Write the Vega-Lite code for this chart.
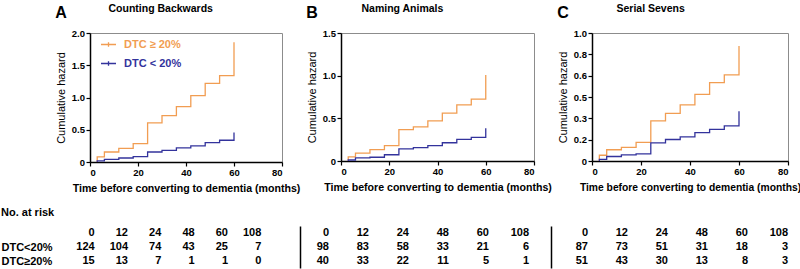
{
  "$schema": "https://vega.github.io/schema/vega-lite/v6.json",
  "padding": {"left": 1, "top": 2, "right": 1, "bottom": 1},
  "background": "white",
  "config": {
    "font": "Liberation Sans",
    "view": {"stroke": "#8c8c8c", "strokeWidth": 1},
    "axis": {
      "grid": false, "labelFont": "Liberation Sans", "labelFontSize": 9.5, "labelFontWeight": "bold", "labelColor": "#000",
      "domainColor": "#000", "domainWidth": 1.5, "tickColor": "#000", "tickWidth": 1.2, "tickSize": 4, "labelPadding": 1.5,
      "titleFont": "Liberation Sans", "titleColor": "#000", "titleFontSize": 10.5
    },
    "title": {"font": "Liberation Sans", "color": "#000"},
    "text": {"font": "Liberation Sans"}
  },
  "datasets": {
    "curves": [
      {"panel": "A", "group": "DTC ≥ 20%", "t": 3, "h": 0},
      {"panel": "A", "group": "DTC ≥ 20%", "t": 3, "h": 0.078},
      {"panel": "A", "group": "DTC ≥ 20%", "t": 6, "h": 0.155},
      {"panel": "A", "group": "DTC ≥ 20%", "t": 12, "h": 0.212},
      {"panel": "A", "group": "DTC ≥ 20%", "t": 18, "h": 0.285},
      {"panel": "A", "group": "DTC ≥ 20%", "t": 24, "h": 0.606},
      {"panel": "A", "group": "DTC ≥ 20%", "t": 30, "h": 0.72},
      {"panel": "A", "group": "DTC ≥ 20%", "t": 36, "h": 0.86},
      {"panel": "A", "group": "DTC ≥ 20%", "t": 42, "h": 1.03},
      {"panel": "A", "group": "DTC ≥ 20%", "t": 48, "h": 1.22},
      {"panel": "A", "group": "DTC ≥ 20%", "t": 54, "h": 1.34},
      {"panel": "A", "group": "DTC ≥ 20%", "t": 60, "h": 1.855},
      {"panel": "A", "group": "DTC < 20%", "t": 3, "h": 0},
      {"panel": "A", "group": "DTC < 20%", "t": 3, "h": 0.016},
      {"panel": "A", "group": "DTC < 20%", "t": 6, "h": 0.04},
      {"panel": "A", "group": "DTC < 20%", "t": 12, "h": 0.062},
      {"panel": "A", "group": "DTC < 20%", "t": 18, "h": 0.083},
      {"panel": "A", "group": "DTC < 20%", "t": 24, "h": 0.155},
      {"panel": "A", "group": "DTC < 20%", "t": 30, "h": 0.18},
      {"panel": "A", "group": "DTC < 20%", "t": 36, "h": 0.218},
      {"panel": "A", "group": "DTC < 20%", "t": 42, "h": 0.249},
      {"panel": "A", "group": "DTC < 20%", "t": 48, "h": 0.3},
      {"panel": "A", "group": "DTC < 20%", "t": 54, "h": 0.337},
      {"panel": "A", "group": "DTC < 20%", "t": 60, "h": 0.456},
      {"panel": "B", "group": "DTC ≥ 20%", "t": 3, "h": 0},
      {"panel": "B", "group": "DTC ≥ 20%", "t": 3, "h": 0.048},
      {"panel": "B", "group": "DTC ≥ 20%", "t": 6, "h": 0.093},
      {"panel": "B", "group": "DTC ≥ 20%", "t": 12, "h": 0.133},
      {"panel": "B", "group": "DTC ≥ 20%", "t": 18, "h": 0.18},
      {"panel": "B", "group": "DTC ≥ 20%", "t": 24, "h": 0.367},
      {"panel": "B", "group": "DTC ≥ 20%", "t": 30, "h": 0.4},
      {"panel": "B", "group": "DTC ≥ 20%", "t": 36, "h": 0.47},
      {"panel": "B", "group": "DTC ≥ 20%", "t": 42, "h": 0.56},
      {"panel": "B", "group": "DTC ≥ 20%", "t": 48, "h": 0.657},
      {"panel": "B", "group": "DTC ≥ 20%", "t": 54, "h": 0.726},
      {"panel": "B", "group": "DTC ≥ 20%", "t": 60, "h": 1.008},
      {"panel": "B", "group": "DTC < 20%", "t": 3, "h": 0},
      {"panel": "B", "group": "DTC < 20%", "t": 3, "h": 0.012},
      {"panel": "B", "group": "DTC < 20%", "t": 6, "h": 0.036},
      {"panel": "B", "group": "DTC < 20%", "t": 12, "h": 0.044},
      {"panel": "B", "group": "DTC < 20%", "t": 18, "h": 0.073},
      {"panel": "B", "group": "DTC < 20%", "t": 24, "h": 0.141},
      {"panel": "B", "group": "DTC < 20%", "t": 30, "h": 0.157},
      {"panel": "B", "group": "DTC < 20%", "t": 36, "h": 0.181},
      {"panel": "B", "group": "DTC < 20%", "t": 42, "h": 0.214},
      {"panel": "B", "group": "DTC < 20%", "t": 48, "h": 0.254},
      {"panel": "B", "group": "DTC < 20%", "t": 54, "h": 0.278},
      {"panel": "B", "group": "DTC < 20%", "t": 60, "h": 0.383},
      {"panel": "C", "group": "DTC ≥ 20%", "t": 3, "h": 0},
      {"panel": "C", "group": "DTC ≥ 20%", "t": 3, "h": 0.045},
      {"panel": "C", "group": "DTC ≥ 20%", "t": 6, "h": 0.088},
      {"panel": "C", "group": "DTC ≥ 20%", "t": 12, "h": 0.106},
      {"panel": "C", "group": "DTC ≥ 20%", "t": 18, "h": 0.146},
      {"panel": "C", "group": "DTC ≥ 20%", "t": 24, "h": 0.314},
      {"panel": "C", "group": "DTC ≥ 20%", "t": 30, "h": 0.372},
      {"panel": "C", "group": "DTC ≥ 20%", "t": 36, "h": 0.439},
      {"panel": "C", "group": "DTC ≥ 20%", "t": 42, "h": 0.521},
      {"panel": "C", "group": "DTC ≥ 20%", "t": 48, "h": 0.612},
      {"panel": "C", "group": "DTC ≥ 20%", "t": 54, "h": 0.673},
      {"panel": "C", "group": "DTC ≥ 20%", "t": 60, "h": 0.899},
      {"panel": "C", "group": "DTC < 20%", "t": 3, "h": 0},
      {"panel": "C", "group": "DTC < 20%", "t": 3, "h": 0.013},
      {"panel": "C", "group": "DTC < 20%", "t": 6, "h": 0.035},
      {"panel": "C", "group": "DTC < 20%", "t": 12, "h": 0.048},
      {"panel": "C", "group": "DTC < 20%", "t": 18, "h": 0.056},
      {"panel": "C", "group": "DTC < 20%", "t": 24, "h": 0.141},
      {"panel": "C", "group": "DTC < 20%", "t": 30, "h": 0.168},
      {"panel": "C", "group": "DTC < 20%", "t": 36, "h": 0.189},
      {"panel": "C", "group": "DTC < 20%", "t": 42, "h": 0.221},
      {"panel": "C", "group": "DTC < 20%", "t": 48, "h": 0.247},
      {"panel": "C", "group": "DTC < 20%", "t": 54, "h": 0.274},
      {"panel": "C", "group": "DTC < 20%", "t": 60, "h": 0.388}
    ],
    "risk": [
      {"panel": "A", "row": "header", "month": "0", "n": "0"},
      {"panel": "A", "row": "header", "month": "12", "n": "12"},
      {"panel": "A", "row": "header", "month": "24", "n": "24"},
      {"panel": "A", "row": "header", "month": "48", "n": "48"},
      {"panel": "A", "row": "header", "month": "60", "n": "60"},
      {"panel": "A", "row": "header", "month": "108", "n": "108"},
      {"panel": "A", "row": "DTC<20%", "month": "0", "n": "124"},
      {"panel": "A", "row": "DTC<20%", "month": "12", "n": "104"},
      {"panel": "A", "row": "DTC<20%", "month": "24", "n": "74"},
      {"panel": "A", "row": "DTC<20%", "month": "48", "n": "43"},
      {"panel": "A", "row": "DTC<20%", "month": "60", "n": "25"},
      {"panel": "A", "row": "DTC<20%", "month": "108", "n": "7"},
      {"panel": "A", "row": "DTC≥20%", "month": "0", "n": "15"},
      {"panel": "A", "row": "DTC≥20%", "month": "12", "n": "13"},
      {"panel": "A", "row": "DTC≥20%", "month": "24", "n": "7"},
      {"panel": "A", "row": "DTC≥20%", "month": "48", "n": "1"},
      {"panel": "A", "row": "DTC≥20%", "month": "60", "n": "1"},
      {"panel": "A", "row": "DTC≥20%", "month": "108", "n": "0"},
      {"panel": "B", "row": "header", "month": "0", "n": "0"},
      {"panel": "B", "row": "header", "month": "12", "n": "12"},
      {"panel": "B", "row": "header", "month": "24", "n": "24"},
      {"panel": "B", "row": "header", "month": "48", "n": "48"},
      {"panel": "B", "row": "header", "month": "60", "n": "60"},
      {"panel": "B", "row": "header", "month": "108", "n": "108"},
      {"panel": "B", "row": "DTC<20%", "month": "0", "n": "98"},
      {"panel": "B", "row": "DTC<20%", "month": "12", "n": "83"},
      {"panel": "B", "row": "DTC<20%", "month": "24", "n": "58"},
      {"panel": "B", "row": "DTC<20%", "month": "48", "n": "33"},
      {"panel": "B", "row": "DTC<20%", "month": "60", "n": "21"},
      {"panel": "B", "row": "DTC<20%", "month": "108", "n": "6"},
      {"panel": "B", "row": "DTC≥20%", "month": "0", "n": "40"},
      {"panel": "B", "row": "DTC≥20%", "month": "12", "n": "33"},
      {"panel": "B", "row": "DTC≥20%", "month": "24", "n": "22"},
      {"panel": "B", "row": "DTC≥20%", "month": "48", "n": "11"},
      {"panel": "B", "row": "DTC≥20%", "month": "60", "n": "5"},
      {"panel": "B", "row": "DTC≥20%", "month": "108", "n": "1"},
      {"panel": "C", "row": "header", "month": "0", "n": "0"},
      {"panel": "C", "row": "header", "month": "12", "n": "12"},
      {"panel": "C", "row": "header", "month": "24", "n": "24"},
      {"panel": "C", "row": "header", "month": "48", "n": "48"},
      {"panel": "C", "row": "header", "month": "60", "n": "60"},
      {"panel": "C", "row": "header", "month": "108", "n": "108"},
      {"panel": "C", "row": "DTC<20%", "month": "0", "n": "87"},
      {"panel": "C", "row": "DTC<20%", "month": "12", "n": "73"},
      {"panel": "C", "row": "DTC<20%", "month": "24", "n": "51"},
      {"panel": "C", "row": "DTC<20%", "month": "48", "n": "31"},
      {"panel": "C", "row": "DTC<20%", "month": "60", "n": "18"},
      {"panel": "C", "row": "DTC<20%", "month": "108", "n": "3"},
      {"panel": "C", "row": "DTC≥20%", "month": "0", "n": "51"},
      {"panel": "C", "row": "DTC≥20%", "month": "12", "n": "43"},
      {"panel": "C", "row": "DTC≥20%", "month": "24", "n": "30"},
      {"panel": "C", "row": "DTC≥20%", "month": "48", "n": "13"},
      {"panel": "C", "row": "DTC≥20%", "month": "60", "n": "8"},
      {"panel": "C", "row": "DTC≥20%", "month": "108", "n": "3"}
    ]
  },
  "resolve": {"scale": {"color": "independent"}, "legend": {"color": "independent"}},
  "columns": 1,
  "align": "none",
  "spacing": 12,
  "concat": [
    {
      "columns": 3,
      "align": "none",
      "spacing": 4,
      "resolve": {"scale": {"color": "independent"}, "legend": {"color": "independent"}},
      "concat": [
        {
          "width": 192, "height": 129,
          "title": {"text": "A", "anchor": "start", "frame": "bounds", "fontSize": 16, "fontWeight": "bold", "offset": -18},
          "data": {"name": "curves"},
          "transform": [{"filter": "datum.panel == 'A'"}],
          "resolve": {"axis": {"x": "independent"}},
          "layer": [
            {
              "mark": {"type": "line", "interpolate": "step-after", "strokeWidth": 1.3},
              "encoding": {
                "x": {"field": "t", "type": "quantitative", "scale": {"domain": [0, 80], "nice": false}, "axis": {"values": [0, 20, 40, 60, 80], "title": "Time before converting to dementia (months)", "titleFontWeight": "bold", "titleFontSize": 10.6, "titlePadding": 6}},
                "y": {"field": "h", "type": "quantitative", "scale": {"domain": [0, 2], "nice": false}, "axis": {"values": [0, 0.5, 1, 1.5, 2], "labelExpr": "datum.value == 0 ? '0' : format(datum.value, '.1f')", "title": "Cumulative hazard", "titleFontWeight": "normal", "titleFontSize": 11, "titlePadding": 5}},
                "color": {"field": "group", "type": "nominal", "scale": {"domain": ["DTC ≥ 20%", "DTC < 20%"], "range": ["#F19D52", "#33339C"]},
                  "legend": {"title": null, "orient": "none", "legendX": 10, "legendY": 3, "padding": 0, "rowPadding": 5, "symbolType": "M-1,0H1M0,-0.3V0.3", "symbolSize": 225, "symbolStrokeWidth": 1.3, "labelFontSize": 11, "labelFontWeight": "bold", "labelOffset": 7,
                    "encode": {"labels": {"update": {"fill": {"signal": "datum.label == 'DTC < 20%' ? '#33339C' : '#F19D52'"}}}}}}
              }
            },
            {
              "mark": {"type": "point", "opacity": 0},
              "encoding": {
                "x": {"field": "t", "type": "quantitative", "axis": {"orient": "top", "title": "Counting Backwards", "labels": false, "ticks": false, "tickSize": 0, "domain": false, "titleFontSize": 10.5, "titleFontWeight": "bold", "titleAlign": "left", "titleAnchor": "start", "titleX": 18, "titlePadding": 20}}
              }
            }
          ]
        },
        {
          "width": 193, "height": 128,
          "title": {"text": "B", "anchor": "start", "frame": "bounds", "fontSize": 16, "fontWeight": "bold", "offset": -18},
          "data": {"name": "curves"},
          "transform": [{"filter": "datum.panel == 'B'"}],
          "resolve": {"axis": {"x": "independent"}},
          "layer": [
            {
              "mark": {"type": "line", "interpolate": "step-after", "strokeWidth": 1.3},
              "encoding": {
                "x": {"field": "t", "type": "quantitative", "scale": {"domain": [0, 80], "nice": false}, "axis": {"values": [0, 20, 40, 60, 80], "title": "Time before converting to dementia (months)", "titleFontWeight": "bold", "titleFontSize": 10.6, "titlePadding": 6}},
                "y": {"field": "h", "type": "quantitative", "scale": {"domain": [0, 1.5], "nice": false}, "axis": {"values": [0, 0.5, 1, 1.5], "labelExpr": "datum.value == 0 ? '0' : format(datum.value, '.1f')", "title": "Cumulative hazard", "titleFontWeight": "normal", "titleFontSize": 11, "titlePadding": 5}},
                "color": {"field": "group", "type": "nominal", "scale": {"domain": ["DTC ≥ 20%", "DTC < 20%"], "range": ["#F19D52", "#33339C"]}, "legend": null}
              }
            },
            {
              "mark": {"type": "point", "opacity": 0},
              "encoding": {
                "x": {"field": "t", "type": "quantitative", "axis": {"orient": "top", "title": "Naming Animals", "labels": false, "ticks": false, "tickSize": 0, "domain": false, "titleFontSize": 10.5, "titleFontWeight": "bold", "titleAlign": "left", "titleAnchor": "start", "titleX": 20, "titlePadding": 20}}
              }
            }
          ]
        },
        {
          "width": 196, "height": 128,
          "title": {"text": "C", "anchor": "start", "frame": "bounds", "fontSize": 16, "fontWeight": "bold", "offset": -18},
          "data": {"name": "curves"},
          "transform": [{"filter": "datum.panel == 'C'"}],
          "resolve": {"axis": {"x": "independent"}},
          "layer": [
            {
              "mark": {"type": "line", "interpolate": "step-after", "strokeWidth": 1.3},
              "encoding": {
                "x": {"field": "t", "type": "quantitative", "scale": {"domain": [0, 80], "nice": false}, "axis": {"values": [0, 20, 40, 60, 80], "title": "Time before converting to dementia (months)", "titleFontWeight": "bold", "titleFontSize": 10.3, "titlePadding": 6}},
                "y": {"field": "h", "type": "quantitative", "scale": {"domain": [0, 1], "nice": false}, "axis": {"values": [0, 0.16667, 0.33333, 0.5, 0.66667, 0.83333, 1], "labelExpr": "datum.value < 0.1 ? '0' : datum.value < 0.25 ? '0.2' : datum.value < 0.4 ? '0.3' : datum.value < 0.55 ? '0.5' : datum.value < 0.75 ? '0.6' : datum.value < 0.9 ? '0.8' : '1.0'", "title": "Cumulative hazard", "titleFontWeight": "normal", "titleFontSize": 11, "titlePadding": 5}},
                "color": {"field": "group", "type": "nominal", "scale": {"domain": ["DTC ≥ 20%", "DTC < 20%"], "range": ["#F19D52", "#33339C"]}, "legend": null}
              }
            },
            {
              "mark": {"type": "point", "opacity": 0},
              "encoding": {
                "x": {"field": "t", "type": "quantitative", "axis": {"orient": "top", "title": "Serial Sevens", "labels": false, "ticks": false, "tickSize": 0, "domain": false, "titleFontSize": 10.5, "titleFontWeight": "bold", "titleAlign": "left", "titleAnchor": "start", "titleX": 24, "titlePadding": 20}}
              }
            }
          ]
        }
      ]
    },
    {
      "spacing": 22,
      "hconcat": [
        {
          "width": 188, "height": 42,
          "view": {"stroke": null},
          "title": {"text": "No. at risk", "anchor": "start", "frame": "bounds", "fontSize": 11, "fontWeight": "bold", "offset": 8},
          "data": {"name": "risk"},
          "transform": [{"filter": "datum.panel == 'A'"}],
          "mark": {"type": "text", "align": "right", "baseline": "middle", "fontSize": 11, "fontWeight": "bold", "color": "#000"},
          "encoding": {
            "x": {"field": "month", "type": "ordinal", "sort": ["0", "12", "24", "48", "60", "108"], "scale": {"type": "point", "range": [-12, 188]}, "axis": null},
            "y": {"field": "row", "type": "nominal", "sort": ["header", "DTC<20%", "DTC≥20%"], "scale": {"paddingInner": 0, "paddingOuter": 0},
              "axis": {"title": null, "domain": false, "ticks": false, "tickSize": 0, "labelAlign": "left", "labelPadding": 89, "labelFontSize": 11, "labelExpr": "datum.value == 'header' ? '' : datum.value"}},
            "text": {"field": "n"}
          }
        },
        {
          "width": 200, "height": 42,
          "view": {"stroke": null},
          "data": {"name": "risk"},
          "transform": [{"filter": "datum.panel == 'B'"}],
          "mark": {"type": "text", "align": "right", "baseline": "middle", "fontSize": 11, "fontWeight": "bold", "color": "#000"},
          "encoding": {
            "x": {"field": "month", "type": "ordinal", "sort": ["0", "12", "24", "48", "60", "108"], "scale": {"type": "point", "padding": 0}, "axis": null},
            "y": {"field": "row", "type": "nominal", "sort": ["header", "DTC<20%", "DTC≥20%"], "scale": {"paddingInner": 0, "paddingOuter": 0},
              "axis": {"title": null, "labels": false, "ticks": false, "tickSize": 0, "domain": true, "domainWidth": 1.5, "offset": 29}},
            "text": {"field": "n"}
          }
        },
        {
          "width": 200, "height": 42,
          "view": {"stroke": null},
          "data": {"name": "risk"},
          "transform": [{"filter": "datum.panel == 'C'"}],
          "mark": {"type": "text", "align": "right", "baseline": "middle", "fontSize": 11, "fontWeight": "bold", "color": "#000"},
          "encoding": {
            "x": {"field": "month", "type": "ordinal", "sort": ["0", "12", "24", "48", "60", "108"], "scale": {"type": "point", "padding": 0}, "axis": null},
            "y": {"field": "row", "type": "nominal", "sort": ["header", "DTC<20%", "DTC≥20%"], "scale": {"paddingInner": 0, "paddingOuter": 0},
              "axis": {"title": null, "labels": false, "ticks": false, "tickSize": 0, "domain": true, "domainWidth": 1.5, "offset": 37}},
            "text": {"field": "n"}
          }
        }
      ]
    }
  ]
}
